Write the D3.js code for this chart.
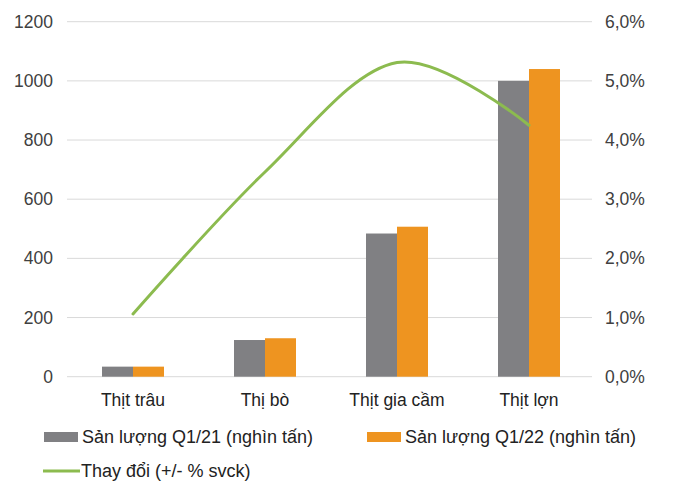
<!DOCTYPE html>
<html>
<head>
<meta charset="utf-8">
<script src="https://cdn.jsdelivr.net/npm/d3@7"></script>
<style>
  html, body { margin: 0; padding: 0; background: #fff; }
  svg { display: block; font-family: "Liberation Sans", Arial, sans-serif; }
</style>
</head>
<body>
<svg id="chart" width="676" height="484"></svg>
<script>
// Meat output, Q1/21 vs Q1/22 (thousand tonnes) and y/y change (%)
const categories = ["Thịt trâu", "Thị bò", "Thịt gia cầm", "Thịt lợn"];
const outputQ121 = [34, 124, 484, 1000];
const outputQ122 = [34, 130, 507, 1040];
const changePct = [1.06, 3.46, 5.31, 4.25];
const leftTicks = [0, 200, 400, 600, 800, 1000, 1200];
const rightTicks = [0, 1, 2, 3, 4, 5, 6];
const seriesNames = ["Sản lượng Q1/21 (nghìn tấn)", "Sản lượng Q1/22 (nghìn tấn)", "Thay đổi (+/- % svck)"];

const colors = { q21: "#808083", q22: "#EE9420", line: "#8CBB4F", grid: "#D9D9D9", text: "#404040" };

const svg = d3.select("#chart");
const plot = { left: 67, right: 595, top: 21.7, bottom: 376.7 };

const x = d3.scaleBand().domain(categories).range([plot.left, plot.right]).paddingInner(0).paddingOuter(0);
const inner = d3.scaleBand().domain(["q21", "q22"]).range([0, 62]);
const yL = d3.scaleLinear().domain([0, 1200]).range([plot.bottom, plot.top]);
const yR = d3.scaleLinear().domain([0, 6]).range([plot.bottom, plot.top]);

// gridlines
svg.append("g").selectAll("line").data(leftTicks).join("line")
  .attr("x1", plot.left).attr("x2", 592)
  .attr("y1", d => yL(d)).attr("y2", d => yL(d))
  .attr("stroke", colors.grid).attr("stroke-width", 1);

// left axis labels
const leftAxis = d3.axisLeft(yL).tickValues(leftTicks).tickFormat(d3.format("d")).tickSize(0).tickPadding(0);
const gL = svg.append("g").attr("transform", "translate(53,0)").call(leftAxis);
gL.select(".domain").remove();
gL.selectAll("text").attr("font-size", 17.5).attr("fill", colors.text)
  .attr("font-family", "Liberation Sans, Arial, sans-serif");

// right axis labels
const fmtPct = d => d3.format(".1f")(d).replace(".", ",") + "%";
const rightAxis = d3.axisRight(yR).tickValues(rightTicks).tickFormat(fmtPct).tickSize(0).tickPadding(0);
const gR = svg.append("g").attr("transform", "translate(605,0)").call(rightAxis);
gR.select(".domain").remove();
gR.selectAll("text").attr("font-size", 17.5).attr("fill", colors.text)
  .attr("font-family", "Liberation Sans, Arial, sans-serif");

// bars
const rows = categories.map((c, i) => ({ c, q21: outputQ121[i], q22: outputQ122[i] }));
const groups = svg.append("g").selectAll("g").data(rows).join("g")
  .attr("transform", d => `translate(${x(d.c) + x.bandwidth() / 2 - 31},0)`);
groups.selectAll("rect").data(d => [{ k: "q21", v: d.q21 }, { k: "q22", v: d.q22 }]).join("rect")
  .attr("x", d => inner(d.k)).attr("width", inner.bandwidth())
  .attr("y", d => yL(d.v)).attr("height", d => plot.bottom - yL(d.v))
  .attr("fill", d => colors[d.k]);

// change line (smoothed)
const line = d3.line()
  .x((d, i) => x(categories[i]) + x.bandwidth() / 2)
  .y(d => yR(d))
  .curve(d3.curveCatmullRom.alpha(0));
svg.append("path").datum(changePct).attr("d", line)
  .attr("fill", "none").attr("stroke", colors.line).attr("stroke-width", 3)
  .attr("stroke-linecap", "round");

// category labels
svg.append("g").selectAll("text").data(categories).join("text")
  .attr("x", d => x(d) + x.bandwidth() / 2).attr("y", 406)
  .attr("text-anchor", "middle").attr("font-size", 17.5).attr("fill", "#222")
  .text(d => d);

// legend
const legend = svg.append("g").attr("font-size", 18).attr("fill", "#222");
const items = [
  { name: seriesNames[0], color: colors.q21, type: "rect", x: 44, y: 437 },
  { name: seriesNames[1], color: colors.q22, type: "rect", x: 367, y: 437 },
  { name: seriesNames[2], color: colors.line, type: "line", x: 43, y: 471 }
];
items.forEach(it => {
  if (it.type === "rect") {
    legend.append("rect").attr("x", it.x).attr("y", it.y - 5).attr("width", 34).attr("height", 10).attr("fill", it.color);
  } else {
    legend.append("line").attr("x1", it.x).attr("x2", it.x + 37).attr("y1", it.y).attr("y2", it.y)
      .attr("stroke", it.color).attr("stroke-width", 3);
  }
  legend.append("text").attr("x", it.x + 38).attr("y", it.y).attr("dy", "0.35em").text(it.name);
});
</script>
</body>
</html>
